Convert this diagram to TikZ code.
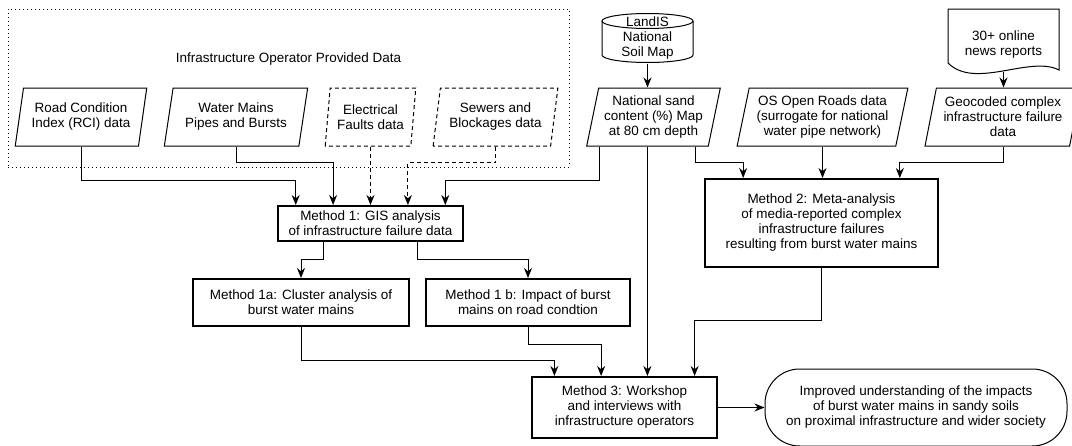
\documentclass[tikz,border=0pt]{standalone}
\usepackage{fontspec}
\setmainfont{Liberation Sans}
\usetikzlibrary{shapes.geometric,arrows.meta,calc}

\begin{document}
\begin{tikzpicture}[x=0.75pt,y=-0.75pt,->,>={Stealth[length=7.5pt,width=6pt]},line width=0.75pt,
    font=\fontsize{10.1}{11.25}\selectfont]
    \tikzstyle{dataset}=[trapezium, trapezium left angle=76, trapezium right angle=104,
        trapezium stretches=true, draw, solid, align=center, inner sep=0.5pt, minimum height=43.5pt]
    \tikzstyle{optional dataset}=[dataset, dash pattern=on 3pt off 2.25pt]
    \tikzstyle{optional link}=[dash pattern=on 3pt off 2.25pt]
    \tikzstyle{method}=[rectangle, draw, line width=1.5pt, align=center]
    \tikzstyle{outcome}=[rectangle, draw, rounded corners=26pt, align=center,
        minimum width=226.5pt, minimum height=57.75pt]
    \tikzstyle{group}=[rectangle, draw, dash pattern=on 0.75pt off 2.25pt]
    \tikzstyle{source}=[align=center, inner sep=0pt]

    \useasboundingbox (0,0) rectangle (1072,446);

    % Draw the group of operator data
    \node[group, minimum width=420.75pt, minimum height=118.5pt] (operators) at (288.5,88) {};
    \node (operators-title) at (288.5,59) {Infrastructure Operator Provided Data};

    % Draw the input datasets
    \node[dataset, minimum width=99pt] (rci) at (81,117) {Road Condition\\Index\ (RCI) data};
    \node[dataset, minimum width=108pt] (mains) at (236,117) {Water Mains\\Pipes and Bursts};
    \node[optional dataset, trapezium left angle=81, trapezium right angle=99,
        minimum width=68.25pt] (faults) at (370.5,117) {Electrical\\Faults data};
    \node[optional dataset, trapezium left angle=78, trapezium right angle=102,
        minimum width=93.75pt] (sewers) at (495.5,117) {Sewers and\\Blockages data};
    \node[dataset, minimum width=100.5pt] (sand) at (653.5,117) {National sand\\content (\%) Map\\at 80 cm depth};
    \node[dataset, minimum width=128.25pt] (roads) at (822.5,117) {OS Open Roads data\\(surrogate for national\\water pipe network)};
    \node[dataset, minimum width=117pt] (geocoded) at (1003,117) {Geocoded complex\\infrastructure failure\\data};

    % Draw the soil map and the news reports
    \node[source, minimum width=68.25pt, minimum height=37.5pt] (soil) at (647.5,38) {LandIS\\National\\Soil Map};
    \draw[-] (602,21) -- (602,55) arc (180:0:45.5 and 7.5) -- (693,21);
    \draw[-] (647.5,21) ellipse (45.5 and 7.5);
    \node[source, minimum width=83.25pt, minimum height=39.75pt] (news) at (1003.5,44.5) {30+ online\\news reports};
    \draw[-] (948,63) -- (948,9) -- (1059,9) -- (1059,70) .. controls (1030,55) and (975,90) .. (948,63);

    % Draw the methods and the outcome
    \node[method, minimum width=138.75pt, minimum height=26.25pt] (m1) at (370.5,223.5) {Method 1: GIS analysis\\of infrastructure failure data};
    \node[method, minimum width=162pt, minimum height=35.25pt] (m1a) at (301,302.5) {Method 1a: Cluster analysis of\\burst water mains};
    \node[method, minimum width=153pt, minimum height=35.25pt] (m1b) at (528,302.5) {Method 1 b: Impact of burst\\mains on road condtion};
    \node[method, minimum width=174.75pt, minimum height=66pt] (m2) at (821.5,223) {Method 2: Meta-analysis\\of media-reported complex\\infrastructure failures\\resulting from burst water mains};
    \node[method, minimum width=138.75pt, minimum height=45.75pt] (m3) at (624.5,407.5) {Method 3: Workshop\\and interviews with\\infrastructure operators};
    \node[outcome] (result) at (916,407.5) {Improved understanding of the impacts\\of burst water mains in sandy soils\\on proximal infrastructure and wider society};

    % Connect the datasets with method 1
    \draw (rci.south) -- ++(0,34) -| ($(m1.north west)!0.1!(m1.north east)$);
    \draw (mains.south) -- ++(0,16) -| ($(m1.north west)!0.3!(m1.north east)$);
    \draw[optional link] (faults.south) -- (faults.south |- m1.north);
    \draw[optional link] (sewers.south) -- ++(0,16) -| ($(m1.north west)!0.7!(m1.north east)$);
    \draw ($(sand.bottom side)+(-48,0)$) -- ++(0,34) -| ($(m1.north west)!0.9!(m1.north east)$);

    % Connect the sources with their datasets
    \draw (soil.south) -- (soil.south |- sand.north);
    \draw (news.south) -- (news.south |- geocoded.north);

    % Connect the datasets with method 2 and method 3
    \draw ($(sand.bottom side)+(48,0)$) -- ++(0,16) -| ($(m2.north west)!1/6!(m2.north east)$);
    \draw (roads.south) -- (roads.south |- m2.north);
    \draw (geocoded.south) -- ++(0,16) -| ($(m2.north west)!5/6!(m2.north east)$);
    \draw (sand.bottom side) -- (sand.bottom side |- m3.north);

    % Connect the methods
    \draw ($(m1.south west)!0.25!(m1.south east)$) -- ++(0,17) -| (m1a.north);
    \draw ($(m1.south west)!0.75!(m1.south east)$) -- ++(0,17) -| (m1b.north);
    \draw (m1a.south) -- ++(0,33) -| ($(m3.north west)!0.125!(m3.north east)$);
    \draw (m1b.south) -- ++(0,17) -| ($(m3.north west)!0.375!(m3.north east)$);
    \draw (m2.south) -- ++(0,52) -| ($(m3.north west)!0.875!(m3.north east)$);
    \draw (m3) -- (result);
\end{tikzpicture}
\end{document}
